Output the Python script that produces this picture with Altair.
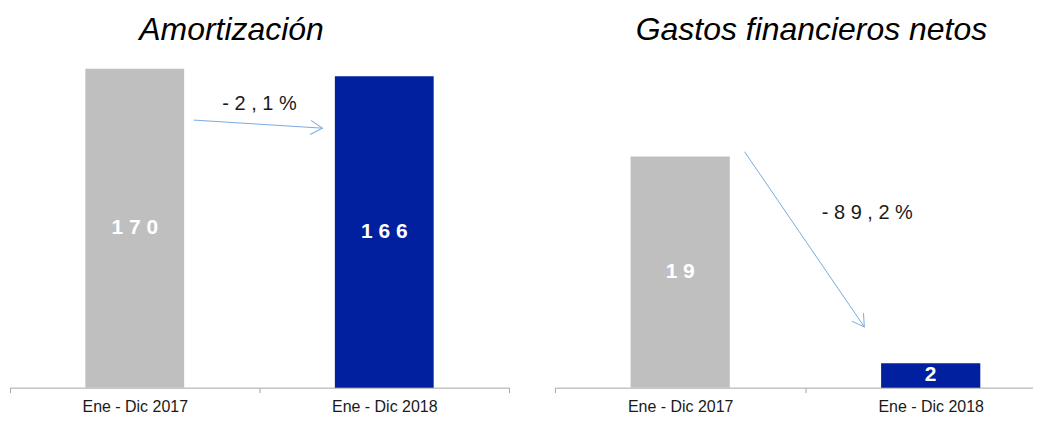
import altair as alt
import pandas as pd

# ---- data ----
periods = ["Ene - Dic 2017", "Ene - Dic 2018"]
bar_colors = ["#bfbfbf", "#0020a0"]

amort_values = [170, 166]
gastos_values = [19, 2]

amort_change = "-2,1%"
gastos_change = "-89,2%"

# annotation anchors: (category, position inside its band, value)
amort_arrow = {
    "start": (periods[0], 0.736, 142.6),
    "end": (periods[1], 0.252, 138.3),
    "label": (periods[1], 0.0, 151.0),
}
gastos_arrow = {
    "start": (periods[0], 0.757, 19.4),
    "end": (periods[1], 0.235, 5.0),
    "label": (periods[1], 0.247, 14.4),
}

ARROW_COLOR = "#78acdf"
HEAD = "M-1,-0.6L0,0L-1,0.6"


def panel(title, values, ymax, change, arrow, width, title_dx, head_angle):
    df = pd.DataFrame({"periodo": periods, "valor": values, "color": bar_colors})
    xscale = alt.Scale(domain=periods, paddingInner=0, paddingOuter=0)
    xenc = alt.X(
        "periodo:N",
        scale=xscale,
        axis=alt.Axis(
            orient="bottom",
            title=None,
            labelAngle=0,
            tickBand="extent",
            tickSize=5,
            tickColor="#a6a6a6",
            domainColor="#a6a6a6",
            labelFont="Liberation Sans Narrow, Arial Narrow, Liberation Sans",
            labelFontSize=16,
            labelColor="#1a1a1a",
            labelPadding=6,
            grid=False,
        ),
    )
    yscale = alt.Scale(domain=[0, ymax], nice=False, zero=True)
    bars = alt.Chart(df).mark_bar(width=alt.RelativeBandSize(0.396)).encode(
        x=xenc,
        y=alt.Y("valor:Q", scale=yscale, axis=None),
        color=alt.Color("color:N", scale=None),
    )
    labels = (
        alt.Chart(df)
        .transform_calculate(
            lbl="join(split(toString(datum.valor), ''), ' ')", mid="datum.valor / 2"
        )
        .mark_text(
            font="Liberation Sans",
            fontWeight="bold",
            fontSize=21,
            color="white",
            baseline="middle",
            align="center",
        )
        .encode(x=alt.X("periodo:N"), y=alt.Y("mid:Q"), text="lbl:N")
    )

    s_cat, s_pos, s_val = arrow["start"]
    e_cat, e_pos, e_val = arrow["end"]
    l_cat, l_pos, l_val = arrow["label"]
    adf = pd.DataFrame(
        [{"sc": s_cat, "sv": s_val, "ec": e_cat, "ev": e_val, "lc": l_cat, "lv": l_val, "txt": change}]
    )
    shaft = alt.Chart(adf).mark_rule(color=ARROW_COLOR, strokeWidth=1).encode(
        x=alt.X("sc:N", bandPosition=s_pos),
        x2=alt.X2("ec", bandPosition=e_pos),
        y=alt.Y("sv:Q"),
        y2="ev:Q",
    )
    head = alt.Chart(adf).mark_point(
        shape=HEAD,
        size=560,
        filled=False,
        stroke=ARROW_COLOR,
        strokeWidth=1,
        opacity=1,
        angle=head_angle,
    ).encode(x=alt.X("ec:N", bandPosition=e_pos), y=alt.Y("ev:Q"))
    pct = (
        alt.Chart(adf)
        .transform_calculate(t="join(split(datum.txt, ''), ' ')")
        .mark_text(
            font="Liberation Sans",
            fontSize=20,
            color="#1a1a1a",
            baseline="middle",
            align="center",
        )
        .encode(x=alt.X("lc:N", bandPosition=l_pos), y=alt.Y("lv:Q"), text="t:N")
    )

    return alt.layer(bars, labels, shaft, head, pct).properties(
        width=width,
        height=329,
        title=alt.TitleParams(
            title,
            font="Liberation Sans",
            fontSize=32,
            fontStyle="italic",
            fontWeight="normal",
            color="black",
            anchor="middle",
            baseline="bottom",
            dx=title_dx,
            offset=-20,
        ),
    )


left = panel("Amortización", amort_values, 175, amort_change, amort_arrow, 500, -28, 3.5)
right = panel(
    "Gastos financieros netos", gastos_values, 27, gastos_change, gastos_arrow, 502, 6, 55.6
)

chart = (
    alt.hconcat(left, right, spacing=44)
    .properties(padding={"left": 1, "top": 6, "right": -24, "bottom": 0})
    .configure_view(stroke=None)
)

chart.save("out.html", embed_options={"renderer": "svg", "actions": False})
